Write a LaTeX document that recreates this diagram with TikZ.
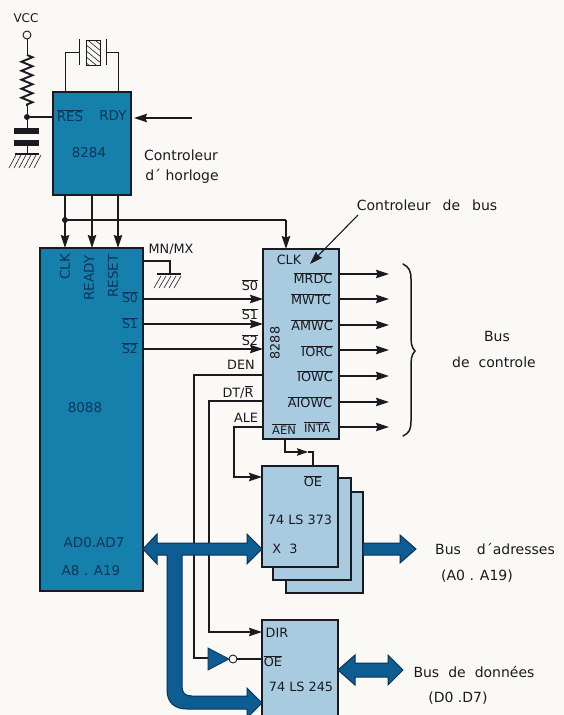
\documentclass[tikz,border=0pt]{standalone}
\usepackage{fontspec}
\setmainfont{DejaVu Sans}
\usetikzlibrary{arrows.meta,decorations.pathmorphing}
\definecolor{paper}{HTML}{FAF9F5}
\definecolor{chipdark}{HTML}{1680AC}
\definecolor{chiplight}{HTML}{A9CBE0}
\definecolor{busblue}{HTML}{0D5C92}
\definecolor{inkdark}{HTML}{0A3558}
\definecolor{ink}{HTML}{1A1A20}
\newcommand{\ovl}[1]{$\overline{\mbox{#1}}$}
\tikzset{
  chipd/.style={draw=ink,line width=1.3,fill=chipdark,inner sep=0,outer sep=0,anchor=north west},
  chipl/.style={draw=ink,line width=1.3,fill=chiplight,inner sep=0,outer sep=0,anchor=north west},
  lbl/.style={inner sep=0,text=ink,font=\fontsize{14}{16}\selectfont},
  lbs/.style={inner sep=0,text=ink,font=\fontsize{12.8}{15}\selectfont},
  lbd/.style={inner sep=0,text=inkdark,font=\fontsize{13.5}{15}\selectfont},
  wire/.style={draw=ink,line width=1.1},
  sig/.style={wire,-{Stealth[length=13pt,width=8.5pt,inset=1.5pt]}},
  smallsig/.style={wire,-{Stealth[length=11pt,width=7.5pt,inset=1.5pt]}},
  bus/.style={draw=inkdark,line width=1,fill=busblue,line join=miter},
  dot/.style={circle,fill=ink,inner sep=0,minimum size=6pt},
  hollow/.style={circle,draw=ink,line width=0.9,fill=paper,inner sep=0,minimum size=8pt},
  hatchl/.style={draw=ink,line width=0.6},
  plate/.style={draw=ink,line width=4,line cap=butt},
}
\begin{document}
\begin{tikzpicture}[x=1pt,y=-1pt]
\clip (0,0) rectangle (564,715);
\fill[paper] (0,0) rectangle (564,715);

% chips
\node[chipd,minimum width=78pt,minimum height=103pt] (u8284) at (53,92) {};
\node[chipd,minimum width=103pt,minimum height=343pt] (u8088) at (40,248) {};
\node[chipl,minimum width=76pt,minimum height=190pt] (u8288) at (263,249) {};
\node[chipl,minimum width=77pt,minimum height=101pt] (s3) at (286,492) {};
\node[chipl,minimum width=78pt,minimum height=102pt] (s2) at (273,478) {};
\node[chipl,minimum width=76pt,minimum height=101pt] (u373) at (262,466) {};
\node[chipl,minimum width=76pt,minimum height=110pt] (u245) at (262,620) {};

% VCC, resistor, capacitor, ground
\node[lbs,font=\fontsize{12}{14}\selectfont] (vcc) at (26,18) {VCC};
\node[hollow] (vccpin) at (27,35) {};
\coordinate (rtop) at (27,55);
\coordinate (rbot) at (27,106);
\node[dot] (jres) at (27,117) {};
\draw[wire,line width=1] (vccpin) -- (rtop);
\draw[draw=ink,line width=1.9,decorate,decoration={zigzag,segment length=9pt,amplitude=5.5pt}] (rtop) -- (rbot);
\draw[wire,line width=1] (rbot) -- (jres);
\draw[wire] (jres) -- (u8284.west |- jres);
\coordinate (c1) at (27,131);
\draw[wire,line width=1] (jres) -- (c1);
\draw[plate,line width=5.5] (14,131) -- (39,131);
\draw[plate,line width=5.5] (14,143) -- (39,143);
\draw[wire,line width=1] (27,146) -- (27,154);
\draw[draw=ink,line width=1.8] (15,154) -- (39,154);
\foreach \x in {15,20,25,30,35,40} \draw[hatchl] (\x+1,155) -- (\x-6,168);

% crystal
\coordinate (xl) at (65,92);
\coordinate (xr) at (118,92);
\draw[wire,line width=1] (xl) -- (65,52) -- (79,52);
\draw[wire,line width=1] (xr) -- (118,52) -- (106,52);
\draw[draw=ink,line width=1] (79,39) -- (79,65);
\draw[draw=ink,line width=1] (106,39) -- (106,65);
\begin{scope}
\clip (86,40) rectangle (100,65);
\foreach \y in {32,38,...,74} \draw[hatchl] (85,\y) -- (101,\y+13);
\end{scope}
\draw[draw=ink,line width=1] (86,40) rectangle (100,65);

% 8284 labels and wires
\node[lbd] (tres) at (70,116) {\ovl{RES}};
\node[lbd] (trdy) at (113,116) {RDY};
\node[lbd] (t8284) at (89,153) {8284};
\node[lbl] (tcth) at (181,155) {Controleur};
\node[lbl] (tcth2) at (182,176) {d´ horloge};
\coordinate (rdyin) at (192,118);
\draw[sig] (rdyin) -- (134,118);
\draw[sig] (u8284.south -| 65,0) -- (u8088.north -| 65,0);
\draw[sig] (u8284.south -| 92,0) -- (u8088.north -| 92,0);
\draw[sig] (u8284.south -| 118,0) -- (u8088.north -| 118,0);
\node[dot] (jclk) at (65,220) {};
\draw[wire] (jclk) -- (286,220);
\draw[sig] (286,220) -- (u8288.north -| 286,0);

% 8088 labels
\node[lbd,rotate=90] (tc) at (65,267) {CLK};
\node[lbd,rotate=90] (tr) at (89,278) {READY};
\node[lbd,rotate=90] (tt) at (113,276) {RESET};
\node[lbd,font=\fontsize{12.5}{14}\selectfont] (ts0) at (130,297) {\ovl{S0}};
\node[lbd,font=\fontsize{12.5}{14}\selectfont] (ts1) at (130,323) {\ovl{S1}};
\node[lbd,font=\fontsize{12.5}{14}\selectfont] (ts2) at (130,348) {\ovl{S2}};
\node[lbd] (t8088) at (85,408) {8088};
\node[lbd] (tad) at (94,543) {AD0.AD7};
\node[lbd] (ta8) at (91,571) {A8 . A19};

% MN/MX
\node[lbs] (tmn) at (171,249) {MN/MX};
\coordinate (mng) at (170,274);
\draw[wire] (u8088.east |- 0,261) -- (170,261) -- (mng);
\draw[draw=ink,line width=2] (157,274) -- (181,274);
\foreach \x in {161,166,171,176,181} \draw[hatchl] (\x,276) -- (\x-7,288);

% status lines
\draw[sig] (u8088.east |- 0,299) -- (u8288.west |- 0,299);
\draw[sig] (u8088.east |- 0,324) -- (u8288.west |- 0,324);
\draw[sig] (u8088.east |- 0,349) -- (u8288.west |- 0,349);
\node[lbs] (l0) at (250,285) {\ovl{S0}};
\node[lbs] (l1) at (250,314) {\ovl{S1}};
\node[lbs] (l2) at (250,340) {\ovl{S2}};
\node[lbs] (lden) at (241,365) {DEN};
\node[lbs] (ldt) at (238,392) {DT/\ovl{R}};
\node[lbs] (lale) at (246,418) {ALE};

% 8288 labels
\node[lbs] (c0) at (289,260) {CLK};
\node[lbs,rotate=90] (c9) at (275,343) {8288};
\node[lbs] (c1t) at (313,278) {\ovl{MRDC}};
\node[lbs] (c2t) at (311,299) {\ovl{MWTC}};
\node[lbs] (c3t) at (312,325) {\ovl{AMWC}};
\node[lbs] (c4t) at (317,351) {\ovl{IORC}};
\node[lbs] (c5t) at (315,376) {\ovl{IOWC}};
\node[lbs] (c6t) at (310,402) {\ovl{AIOWC}};
\node[lbs,font=\fontsize{11.5}{14}\selectfont] (c7t) at (284,429) {\ovl{AEN}};
\node[lbs,font=\fontsize{11.5}{14}\selectfont] (c8t) at (317,427) {\ovl{INTA}};

% outputs
\foreach \y in {274,299,325,350,376,402,427}
  \draw[sig] (u8288.east |- 0,\y) -- (389,\y);

% pointer
\node[lbl] (tcb) at (427,205) {Controleur\hspace{12pt}de\hspace{12pt}bus};
\draw[sig] (358,215) -- (310,264);

% brace
\draw[draw=ink,line width=1.5,line cap=round]
  (403,264) .. controls (409,267) and (411,271) .. (411,279)
  -- (411,334) .. controls (411,342) and (411,347) .. (415,351)
  .. controls (411,355) and (411,360) .. (411,368)
  -- (411,421) .. controls (411,430) and (409,433) .. (403,436);
\node[lbl] (tb1) at (497,336) {Bus};
\node[lbl] (tb2) at (494,362) {de\ \ controle};

% other control wires
\draw[wire] (u8288.west |- 0,375) -- (194,375) -- (194,658) -- (208,658);
\draw[sig] (u8288.west |- 0,401) -- (209,401) -- (209,632) -- (u245.west |- 0,632);
\draw[sig] (u8288.west |- 0,427) -- (234,427) -- (234,477) -- (u373.west |- 0,477);
\draw[smallsig] (u8288.south -| 285,0) -- (285,452) -- (308,452);
\draw[wire] (308,452) -- (313,452) -- (u373.north -| 313,0);

% inverter
\node[hollow] (inv) at (233,659) {};
\fill[busblue,draw=inkdark,line width=0.8] (208,648) -- (229,659) -- (208,670) -- cycle;
\draw[wire] (inv) -- (u245.west |- inv);

% 373 / 245 labels
\node[lbs] (o1) at (313,481) {\ovl{OE}};
\node[lbs] (o2) at (300,520) {74 LS 373};
\node[lbs] (o3) at (285,549) {X\ \ 3};
\node[lbs] (p1) at (277,633) {DIR};
\node[lbs] (p2) at (273,661) {\ovl{OE}};
\node[lbs] (p3) at (301,687) {74 LS 245};

% buses
\draw[bus] (143,549) -- (157,534) -- (157,543) -- (247,543) -- (247,534) -- (262,549) -- (247,564) -- (247,555)
  -- (182,555) -- (182,686) .. controls (182,693) and (185,696) .. (192,696) -- (247,696) -- (247,688) -- (262,703) -- (247,718) -- (247,709)
  -- (187,709) .. controls (174,709) and (167,702) .. (167,690) -- (167,555) -- (157,555) -- (157,564) -- cycle;
\draw[bus] (s3.east |- 0,543) -- (400,543) -- (400,535) -- (416,549) -- (400,563) -- (400,555) -- (s3.east |- 0,555) -- cycle;
\draw[bus] (338,670) -- (355,655) -- (355,663) -- (388,663) -- (388,655) -- (403,670) -- (388,685) -- (388,677) -- (355,677) -- (355,685) -- cycle;

\node[lbl] (ba) at (495,549) {Bus\hspace{16pt}d´adresses};
\node[lbl] (ba2) at (477,576) {(A0 . A19)};
\node[lbl] (bd) at (474,672) {Bus\hspace{9pt}de\hspace{9pt}données};
\node[lbl] (bd2) at (458,698) {(D0 .D7)};
\end{tikzpicture}
\end{document}
